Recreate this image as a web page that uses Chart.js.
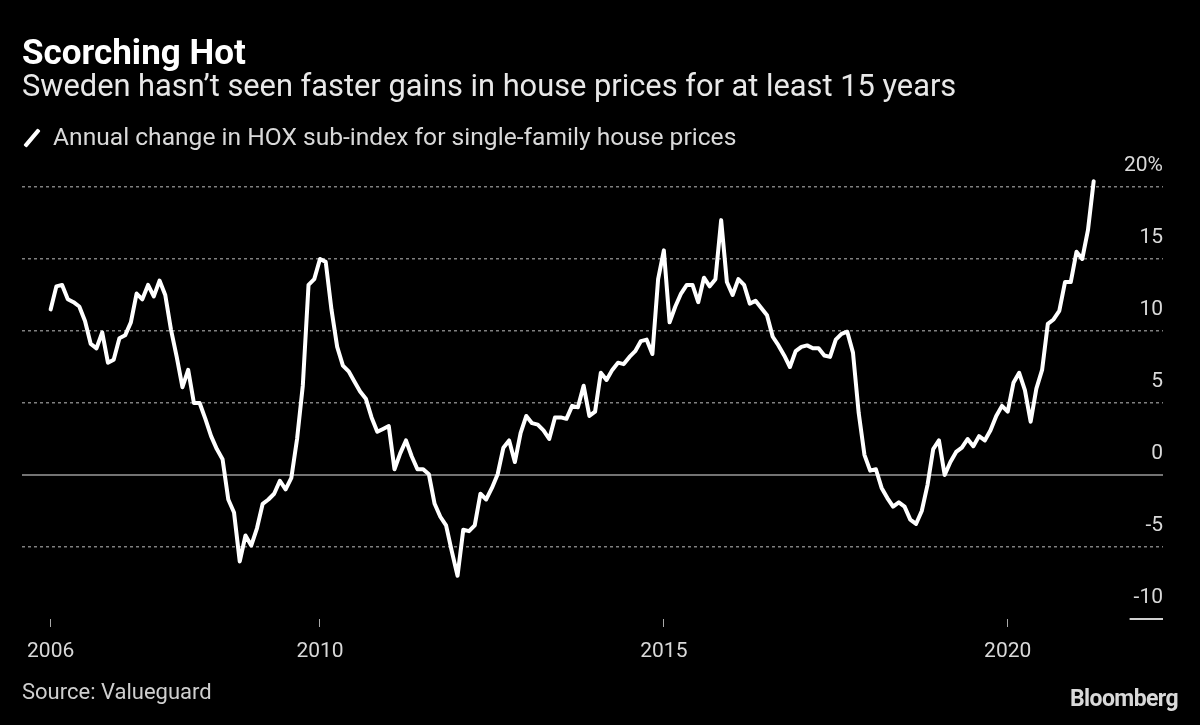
<!DOCTYPE html>
<html>
<head>
<meta charset="utf-8">
<script src="https://cdn.jsdelivr.net/npm/chart.js@4/dist/chart.umd.min.js"></script>
<style>
  html, body { margin: 0; padding: 0; background: #000; }
  #wrap { position: relative; width: 1200px; height: 725px; background: #000; overflow: hidden;
          font-family: Roboto, "Liberation Sans", sans-serif; color: #fff; }
  #c { position: absolute; left: 0; top: 0; }
  .t { position: absolute; white-space: nowrap; line-height: 1; }
  #legmark { position: absolute; left: 30px; top: 127px; width: 4px; height: 22px; background: #fff;
             transform: rotate(40deg); border-radius: 1px; }
</style>
</head>
<body>
<div id="wrap">
  <canvas id="c" width="1200" height="725"></canvas>
  <div class="t" style="left:22px; top:35px; font-size:35px; font-weight:700; color:#fff;">Scorching Hot</div>
  <div class="t" style="left:22px; top:71px; font-size:30.8px; color:#e8e8e8;">Sweden hasn’t seen faster gains in house prices for at least 15 years</div>
  <div id="legmark"></div>
  <div class="t" style="left:53px; top:125px; font-size:24.6px; color:#d9d9d9;">Annual change in HOX sub-index for single-family house prices</div>
  <div class="t" style="left:22px; top:681px; font-size:22px; color:#cfcfcf;">Source: Valueguard</div>
  <div class="t" style="right:22px; top:687px; font-size:23px; font-weight:700; color:#d9d9d9; letter-spacing:-0.6px;">Bloomberg</div>
</div>
<script>
// ---- Data: annual % change, HOX single-family house prices (monthly) ----
const startYear = 2006;
const startMonth = 2; // February 2006 is the first observation
const values2006 = [11.5, 13.1, 13.2, 12.2, 12.0, 11.7, 10.7, 9.1, 8.8, 9.9, 7.8];
const values2007 = [8.0, 9.5, 9.7, 10.6, 12.6, 12.2, 13.2, 12.4, 13.5, 12.5, 10.1, 8.2];
const values2008 = [6.1, 7.3, 5.0, 5.0, 3.9, 2.7, 1.8, 1.1, -1.7, -2.6, -6.0, -4.2];
const values2009 = [-4.9, -3.7, -2.0, -1.7, -1.3, -0.4, -1.0, -0.2, 2.5, 6.2, 13.2, 13.6];
const values2010 = [15.0, 14.8, 11.5, 8.9, 7.6, 7.2, 6.5, 5.8, 5.3, 4.0, 3.0, 3.2];
const values2011 = [3.4, 0.4, 1.5, 2.4, 1.3, 0.4, 0.4, 0.05, -2.0, -2.9, -3.5, -5.3];
const values2012 = [-7.0, -3.8, -3.9, -3.5, -1.3, -1.7, -0.9, 0.05, 1.9, 2.4, 0.9, 2.9];
const values2013 = [4.1, 3.6, 3.5, 3.1, 2.5, 4.0, 4.0, 3.9, 4.8, 4.7, 6.2, 4.1];
const values2014 = [4.4, 7.1, 6.6, 7.3, 7.8, 7.7, 8.2, 8.6, 9.3, 9.4, 8.4, 13.6];
const values2015 = [15.6, 10.6, 11.7, 12.6, 13.2, 13.2, 12.0, 13.7, 13.1, 13.6, 17.7, 13.4];
const values2016 = [12.5, 13.6, 13.2, 11.9, 12.1, 11.6, 11.1, 9.6, 9.0, 8.3, 7.5, 8.6];
const values2017 = [8.9, 9.0, 8.8, 8.8, 8.3, 8.2, 9.4, 9.8, 9.95, 8.5, 4.3, 1.4];
const values2018 = [0.3, 0.4, -0.9, -1.6, -2.2, -1.9, -2.2, -3.1, -3.4, -2.5, -0.7, 1.8];
const values2019 = [2.4, 0.0, 0.9, 1.6, 1.9, 2.5, 2.0, 2.7, 2.4, 3.1, 4.1, 4.8];
const values2020 = [4.4, 6.4, 7.1, 5.9, 3.7, 6.0, 7.3, 10.5, 10.8, 11.4, 13.4, 13.4];
const values2021 = [15.5, 15.0, 17.0, 20.4];

const yearlyValues = [values2006, values2007, values2008, values2009, values2010, values2011,
  values2012, values2013, values2014, values2015, values2016, values2017, values2018,
  values2019, values2020, values2021];

// ---- Tick labels ----
const xTickYears = [2006, 2010, 2015, 2020];
const yTickValues = [-10, -5, 0, 5, 10, 15, 20];
const seriesLabel = 'Annual change in HOX sub-index for single-family house prices';

// Build points: x = year + (month-1)/12
const points = [];
yearlyValues.forEach((arr, k) => {
  const yr = startYear + k;
  const m0 = (k === 0) ? startMonth : 1;
  arr.forEach((v, j) => {
    points.push({ x: yr + (m0 - 1 + j) / 12, y: v });
  });
});
const firstX = points[0].x;
const xTickPositions = xTickYears.map(y => Math.max(y, firstX));

const FONT = 'Roboto, "Liberation Sans", sans-serif';

const refLines = {
  id: 'refLines',
  beforeDatasetsDraw(chart) {
    const { ctx, chartArea, scales } = chart;
    const y0 = scales.y.getPixelForValue(0);
    ctx.save();
    ctx.strokeStyle = '#9a9a9a';
    ctx.lineWidth = 1.5;
    ctx.beginPath();
    ctx.moveTo(chartArea.left, y0);
    ctx.lineTo(chartArea.right, y0);
    ctx.stroke();
    // short rule under the lowest label
    const yb = scales.y.getPixelForValue(yTickValues[0]);
    ctx.font = '21px ' + FONT;
    const w = ctx.measureText(String(yTickValues[0])).width;
    ctx.strokeStyle = '#d0d0d0';
    ctx.lineWidth = 2;
    ctx.beginPath();
    ctx.moveTo(chartArea.right - w - 4, yb);
    ctx.lineTo(chartArea.right, yb);
    ctx.stroke();
    ctx.restore();
  }
};

new Chart(document.getElementById('c'), {
  type: 'line',
  data: {
    datasets: [{
      label: seriesLabel,
      data: points,
      borderColor: '#ffffff',
      borderWidth: 4,
      pointRadius: 0,
      tension: 0,
      borderJoinStyle: 'round',
      borderCapStyle: 'round',
      clip: false
    }]
  },
  options: {
    responsive: false,
    animation: false,
    devicePixelRatio: 1,
    layout: { padding: { left: 22, right: 37, top: 187, bottom: 61 } },
    plugins: { legend: { display: false }, tooltip: { enabled: false }, title: { display: false } },
    scales: {
      x: {
        type: 'linear',
        min: 2005.667,
        max: 2022.258,
        afterBuildTicks: ax => { ax.ticks = xTickPositions.map(v => ({ value: v })); },
        afterFit: ax => { ax.height = 45; },
        ticks: {
          autoSkip: false,
          maxRotation: 0,
          padding: 12,
          color: '#d9d9d9',
          font: { family: FONT, size: 21 },
          callback: v => String(Math.floor(v + 1e-6))
        },
        grid: { drawOnChartArea: false, drawTicks: true, tickLength: 8, color: '#aaaaaa', lineWidth: 1 },
        border: { display: false }
      },
      y: {
        position: 'right',
        min: -10,
        max: 20,
        afterBuildTicks: ax => { ax.ticks = yTickValues.map(v => ({ value: v })); },
        afterFit: ax => { ax.width = 0; },
        ticks: {
          mirror: true,
          padding: 0,
          labelOffset: -21,
          color: '#d9d9d9',
          font: { family: FONT, size: 21 },
          callback: v => (v === yTickValues[yTickValues.length - 1] ? v + '%' : String(v))
        },
        grid: {
          drawTicks: false,
          lineWidth: 1.5,
          color: c => (c.tick && (c.tick.value === 0 || c.tick.value === yTickValues[0])) ? 'rgba(0,0,0,0)' : '#808080'
        },
        border: { display: false, dash: [3, 3] }
      }
    }
  },
  plugins: [refLines]
});
</script>
</body>
</html>
